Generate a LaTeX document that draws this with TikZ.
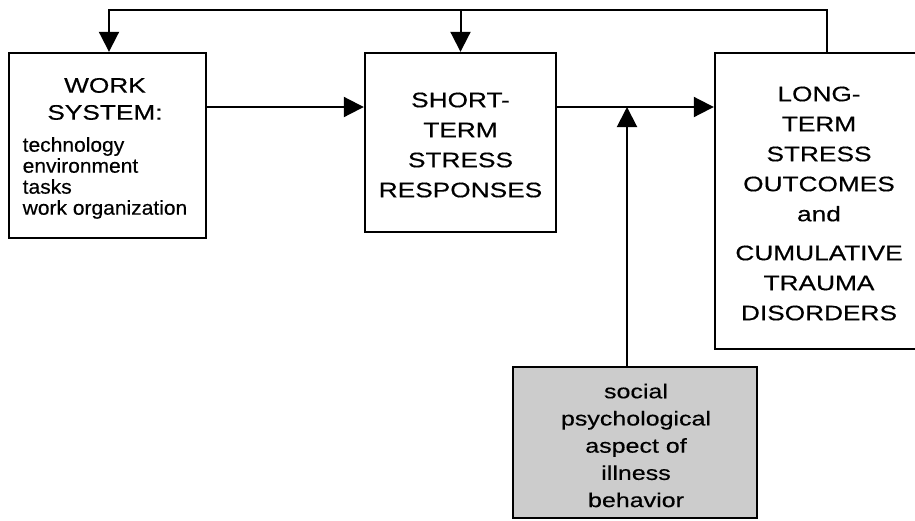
\documentclass[tikz,border=0pt]{standalone}
\usepackage{fontspec}
\setmainfont{Liberation Sans}
\newfontfamily\widesans[FakeStretch=1.25,FakeBold=0.4]{Liberation Sans}
\newfontfamily\listsans[FakeStretch=1.05,FakeBold=0.4]{Liberation Sans}
\usetikzlibrary{arrows.meta}
\begin{document}
\begin{tikzpicture}[x=1pt,y=-1pt,
  box/.style={draw,line width=2.4pt,inner sep=0pt},
  boxtext/.style={inner sep=0pt,align=center,
    font=\widesans\fontsize{21}{30}\selectfont},
  conn/.style={line width=2pt},
  arr/.style={conn,-{Triangle[length=20pt,width=20pt]}}]
\clip (0,0) rectangle (915,520);

% frames
\node[box,minimum width=197pt,minimum height=185pt] (work) at (107.5,145.5) {};
\node[box,minimum width=191pt,minimum height=179pt] (short) at (460.5,142.5) {};
\node[box,minimum width=208pt,minimum height=296pt] (long) at (819,201) {};
\node[box,fill=gray!40,minimum width=244pt,minimum height=151pt] (social) at (635,442.5) {};

% texts inside the frames
\node[boxtext,font=\widesans\fontsize{21}{27}\selectfont] (worktxt) at (105,149.5)
  {WORK\\SYSTEM:\\[5pt]{\listsans\fontsize{20}{21}\selectfont
   \begin{tabular}[t]{@{}l@{}}technology\\environment\\tasks\\work organization\end{tabular}}};
\node[boxtext] (shorttxt) at (460.5,145)
  {SHORT-\\TERM\\STRESS\\RESPONSES};
\node[boxtext] (longtxt) at (819,203.5)
  {LONG-\\TERM\\STRESS\\OUTCOMES\\and\\[9pt]CUMULATIVE\\TRAUMA\\DISORDERS};
\node[boxtext,font=\widesans\fontsize{20}{27.2}\selectfont] (socialtxt) at (636,445.5)
  {social\\psychological\\aspect of\\illness\\behavior};

% reference points for the connectors
\coordinate (fbL) at (109,10);
\coordinate (fbR) at (827,10);
\coordinate (row) at (0,107);
\coordinate (mod) at (627,107);

% feedback loop along the top
\draw[arr] (long.north -| fbR) -- (fbR) -- (fbL) -- (work.north -| fbL);
\draw[arr] (short.north |- fbL) -- (short.north);

% main chain
\draw[arr] (work.east |- row) -- (short.west |- row);
\draw[arr] (short.east |- row) -- (long.west |- row);

% moderating influence
\draw[arr] (social.north -| mod) -- (mod);
\end{tikzpicture}
\end{document}
